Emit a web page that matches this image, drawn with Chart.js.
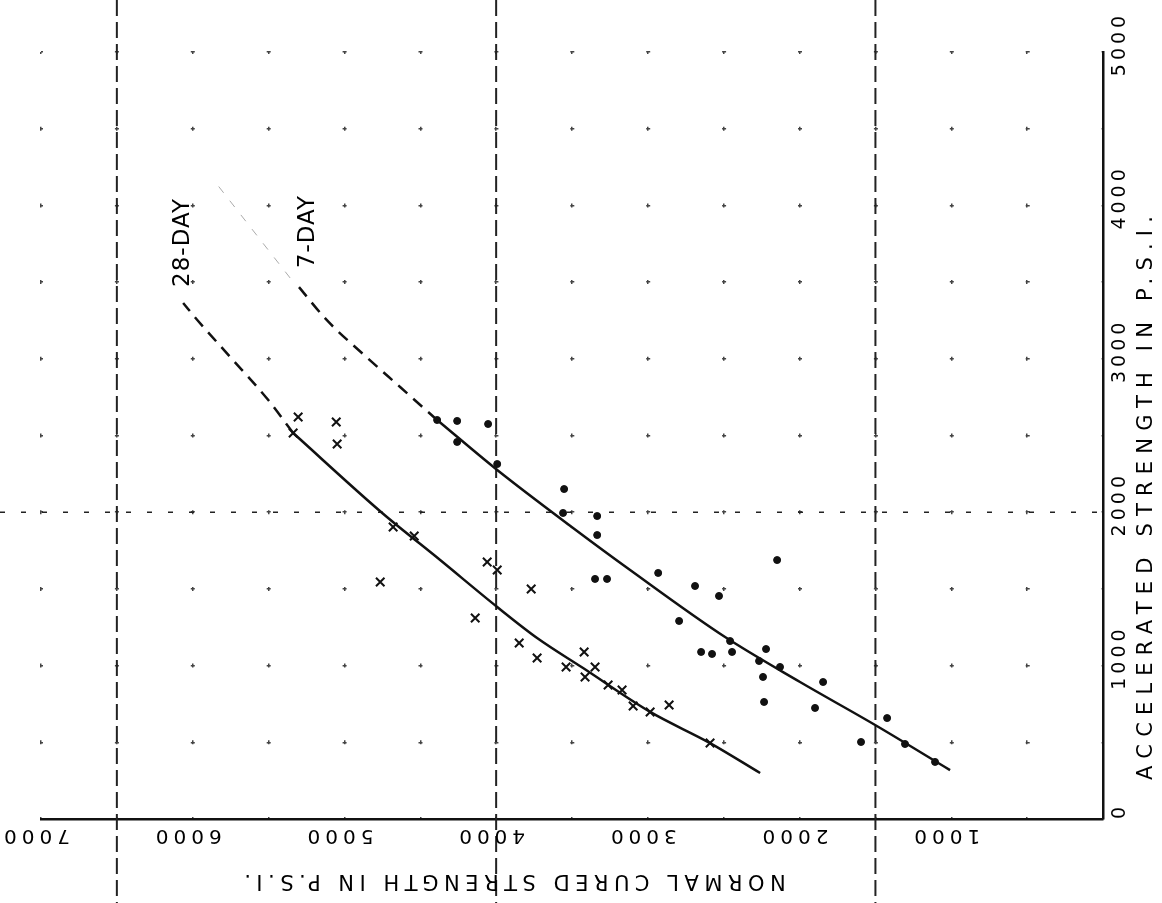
<!DOCTYPE html>
<html lang="en">
<head>
  <meta charset="UTF-8">
  <title>Accelerated vs Normal Cured Strength</title>
  <script src="https://cdn.jsdelivr.net/npm/chart.js"></script>
  <style>
    body { margin: 0; background: #fff; }
    canvas { display: block; }
  </style>
</head>
<body>
<canvas id="strengthChart" width="1162" height="903"></canvas>

<script>
  // axis ticks (p.s.i.)
  const normalTicks = [1000, 2000, 3000, 4000, 5000, 6000, 7000];
  const accelTicks = [0, 1000, 2000, 3000, 4000, 5000];
  const refNormal = [1500, 4000, 6500];   // heavy dashed verticals
  const refAccel = [2000];                // dotted horizontal

  // 7-day tests: normal cured (x) and accelerated (y)
  const day7Normal = [4389, 4257, 4053, 4257, 3993, 3552, 3559, 3334, 3334, 3348, 3269, 2932, 2689, 2531, 2148,
                      2794, 2649, 2577, 2445, 2458, 2221, 2267, 2129, 2241, 2234, 1845, 1898, 1423, 1595, 1305, 1107];
  const day7Accel  = [2601, 2595, 2575, 2458, 2314, 2151, 1995, 1975, 1851, 1565, 1565, 1604, 1519, 1454, 1688,
                      1291, 1089, 1076, 1089, 1160, 1108, 1030, 991, 926, 763, 893, 724, 658, 502, 489, 372];

  // 28-day tests
  const day28Normal = [5305, 5054, 5048, 5338, 4679, 4540, 4059, 3993, 4764, 3769, 4138, 3848, 3730, 3420,
                       3539, 3348, 3414, 3262, 3170, 3097, 2985, 2860, 2590];
  const day28Accel  = [2621, 2588, 2445, 2516, 1904, 1845, 1675, 1623, 1545, 1499, 1310, 1147, 1050, 1089,
                       991, 991, 926, 874, 841, 737, 698, 743, 495];

  // fitted curves
  const fit7Normal = [1008, 1502, 1997, 2491, 3117, 3493, 3993, 4389];
  const fit7Accel  = [319, 613, 893, 1186, 1623, 1897, 2275, 2601];
  const ext7Normal = [4389, 4633, 4876, 5114, 5311];
  const ext7Accel  = [2601, 2816, 3030, 3250, 3481];
  const faint7Normal = [5358, 5850];
  const faint7Accel  = [3527, 4150];
  const fit28Normal = [2260, 2590, 2985, 3427, 3730, 3993, 4369, 4751, 5338];
  const fit28Accel  = [300, 495, 698, 984, 1180, 1382, 1688, 1995, 2516];
  const ext28Normal = [5338, 5502, 5753, 5970, 6063];
  const ext28Accel  = [2516, 2731, 3012, 3253, 3364];

  const pts = (xs, ys) => xs.map((v, i) => ({ x: v, y: ys[i] }));
  const FONT = '"DejaVu Sans", sans-serif';

  function rotText(ctx, text, x, y, angle, size, spacing) {
    ctx.save();
    ctx.translate(x, y);
    ctx.rotate(angle);
    ctx.font = size + 'px ' + FONT;
    ctx.letterSpacing = spacing + 'px';
    ctx.fillStyle = '#000';
    ctx.textAlign = 'center';
    ctx.textBaseline = 'middle';
    ctx.fillText(text, spacing / 2, 0);
    ctx.restore();
  }

  const paperMarks = {
    id: 'paperMarks',
    beforeDatasetsDraw(chart) {
      const { ctx, scales: { x, y } } = chart;
      ctx.save();
      ctx.strokeStyle = '#222';
      ctx.lineWidth = 2;
      ctx.setLineDash([16, 6]);
      refNormal.forEach(v => {
        const px = x.getPixelForValue(v);
        ctx.beginPath(); ctx.moveTo(px, 0); ctx.lineTo(px, chart.height); ctx.stroke();
      });
      ctx.lineWidth = 1.5;
      ctx.setLineDash([5, 16]);
      refAccel.forEach(v => {
        const py = y.getPixelForValue(v);
        ctx.beginPath(); ctx.moveTo(0, py); ctx.lineTo(x.right, py); ctx.stroke();
      });
      ctx.restore();
    },
    afterDraw(chart) {
      const { ctx, scales: { x, y } } = chart;
      accelTicks.forEach(v => {
        rotText(ctx, String(v), y.right + 17, y.getPixelForValue(v) - 6, -Math.PI / 2, 19, 4);
      });
      normalTicks.forEach(v => {
        rotText(ctx, String(v), x.getPixelForValue(v) - 4, x.bottom + 16, Math.PI, 20, 5);
      });
      rotText(ctx, 'ACCELERATED STRENGTH IN P.S.I.', y.right + 44, 498, -Math.PI / 2, 21, 7.2);
      rotText(ctx, 'NORMAL CURED STRENGTH IN P.S.I.', 515, x.bottom + 61, Math.PI, 21, 5.5);

      const e28 = ext28Normal.length - 1, e7 = ext7Normal.length - 1;
      rotText(ctx, '28-DAY', x.getPixelForValue(ext28Normal[e28]), y.getPixelForValue(ext28Accel[e28]) - 60, -Math.PI / 2, 23, 1);
      rotText(ctx, '7-DAY', x.getPixelForValue(ext7Normal[e7]) + 11, y.getPixelForValue(ext7Accel[e7]) - 53, -Math.PI / 2, 23, 1);
    }
  };

  const lineSet = (data, dash, width, color) => ({
    data, showLine: true, pointRadius: 0, borderColor: color || '#111',
    borderWidth: width, borderDash: dash, cubicInterpolationMode: 'monotone', fill: false
  });

  new Chart(document.getElementById('strengthChart'), {
    type: 'scatter',
    data: {
      datasets: [
        lineSet(pts(fit7Normal, fit7Accel), [], 2.5),
        lineSet(pts(ext7Normal, ext7Accel), [12, 8], 2.5),
        lineSet(pts(faint7Normal, faint7Accel), [8, 10], 1, '#aaa'),
        lineSet(pts(fit28Normal, fit28Accel), [], 2.5),
        lineSet(pts(ext28Normal, ext28Accel), [12, 8], 2.5),
        {
          label: '7-day',
          data: pts(day7Normal, day7Accel),
          pointStyle: 'circle', pointRadius: 3.5,
          backgroundColor: '#111', borderColor: '#111'
        },
        {
          label: '28-day',
          data: pts(day28Normal, day28Accel),
          pointStyle: 'crossRot', pointRadius: 6, borderWidth: 2,
          borderColor: '#111'
        }
      ]
    },
    options: {
      responsive: false,
      animation: false,
      layout: { padding: { left: 41, right: 59, top: 52, bottom: 84 } },
      plugins: { legend: { display: false }, tooltip: { enabled: false } },
      scales: {
        x: {
          type: 'linear', reverse: true, min: 0, max: 7000,
          ticks: { display: false, stepSize: 500 },
          grid: { color: '#444', lineWidth: 1.5, drawTicks: false },
          border: { display: true, color: '#111', width: 2.5, dash: [4, 72.7], dashOffset: 2 }
        },
        y: {
          type: 'linear', position: 'right', min: 0, max: 5000,
          ticks: { display: false, stepSize: 500 },
          grid: { color: '#444', lineWidth: 1.5, drawTicks: false },
          border: { display: true, color: '#111', width: 2.5, dash: [4, 71.9], dashOffset: 2 }
        }
      }
    },
    plugins: [paperMarks]
  });
</script>
</body>
</html>
